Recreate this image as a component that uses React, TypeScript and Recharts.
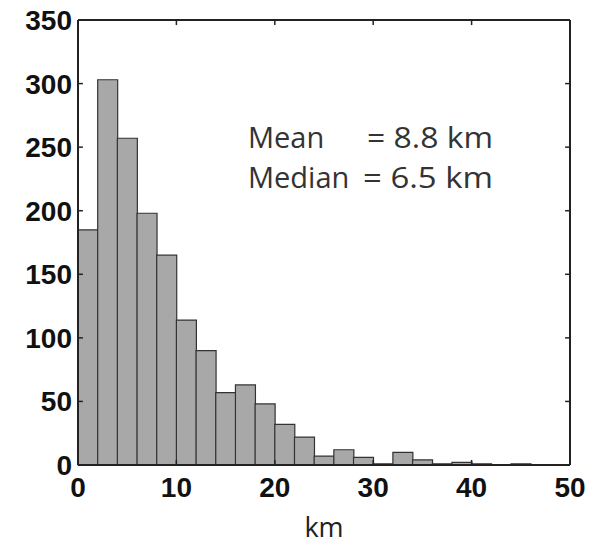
import { BarChart, Bar, XAxis, YAxis, ReferenceLine } from "recharts";

// histogram bins (2 km wide), centre of each bin
const binMids = [1, 3, 5, 7, 9, 11, 13, 15, 17, 19, 21, 23, 25, 27, 29, 31, 33, 35, 37, 39, 41, 43, 45, 47, 49];
const counts = [185, 303, 257, 198, 165, 114, 90, 57, 63, 48, 32, 22, 7, 12, 6, 1, 10, 4, 1, 2, 1, 0, 1, 0, 0];

const xTicks = [0, 10, 20, 30, 40, 50];
const yTicks = [0, 50, 100, 150, 200, 250, 300, 350];

const data = binMids.map((mid, i) => ({ mid, count: counts[i] }));

const tickFont = {
    fontFamily: "'Liberation Sans', Arial, sans-serif",
    fontWeight: "bold" as const,
    fontSize: 28,
    fill: "#111",
};

const axisColor = "#222";
const noteFont = { fontFamily: "'Open Sans', sans-serif", fontSize: 29, fill: "#333" };

export default function App() {
    return (
        <div style={{ position: "absolute", left: 0, top: 0, width: 597, height: 545, background: "#fff" }}>
            <BarChart
                width={597}
                height={545}
                data={data}
                margin={{ top: 20, right: 27, bottom: 0, left: 0 }}
                barCategoryGap={0}
                barGap={0}
            >
                <XAxis
                    dataKey="mid"
                    type="number"
                    domain={[0, 50]}
                    ticks={xTicks}
                    height={80}
                    tickLine={false}
                    tickSize={0}
                    tickMargin={12}
                    tick={tickFont}
                    axisLine={{ stroke: axisColor, strokeWidth: 2 }}
                    label={{
                        value: "km",
                        position: "insideBottom",
                        offset: 8,
                        style: { fontFamily: "'Open Sans', sans-serif", fontSize: 27, fill: "#222" },
                    }}
                />
                <YAxis
                    type="number"
                    domain={[0, 350]}
                    ticks={yTicks}
                    width={78}
                    tickLine={false}
                    tickSize={0}
                    tickMargin={6}
                    tick={tickFont}
                    axisLine={{ stroke: axisColor, strokeWidth: 2 }}
                />
                <Bar
                    dataKey="count"
                    fill="#a8a8a8"
                    stroke="#333"
                    strokeWidth={1.2}
                    isAnimationActive={false}
                />
                {/* box: top and right edges */}
                <ReferenceLine y={350} stroke={axisColor} strokeWidth={2} />
                <ReferenceLine x={50} stroke={axisColor} strokeWidth={2} />
                {/* inward tick marks */}
                {xTicks.slice(1, -1).map((t) => (
                    <ReferenceLine
                        key={"xb" + t}
                        segment={[{ x: t, y: 0 }, { x: t, y: 4 }]}
                        stroke={axisColor}
                        strokeWidth={1.5}
                    />
                ))}
                {xTicks.slice(1, -1).map((t) => (
                    <ReferenceLine
                        key={"xt" + t}
                        segment={[{ x: t, y: 350 }, { x: t, y: 346 }]}
                        stroke={axisColor}
                        strokeWidth={1.5}
                    />
                ))}
                {yTicks.slice(1, -1).map((t) => (
                    <ReferenceLine
                        key={"yl" + t}
                        segment={[{ x: 0, y: t }, { x: 0.5, y: t }]}
                        stroke={axisColor}
                        strokeWidth={1.5}
                    />
                ))}
                {yTicks.slice(1, -1).map((t) => (
                    <ReferenceLine
                        key={"yr" + t}
                        segment={[{ x: 50, y: t }, { x: 49.5, y: t }]}
                        stroke={axisColor}
                        strokeWidth={1.5}
                    />
                ))}
            </BarChart>
            <svg
                width={597}
                height={545}
                style={{ position: "absolute", left: 0, top: 0, pointerEvents: "none" }}
            >
                <g style={noteFont}>
                    <text x={248} y={148}>Mean</text>
                    <text x={367} y={148} textLength={126} lengthAdjust="spacingAndGlyphs">= 8.8 km</text>
                    <text x={248} y={188}>Median</text>
                    <text x={363} y={188} textLength={130} lengthAdjust="spacingAndGlyphs">= 6.5 km</text>
                </g>
            </svg>
        </div>
    );
}
